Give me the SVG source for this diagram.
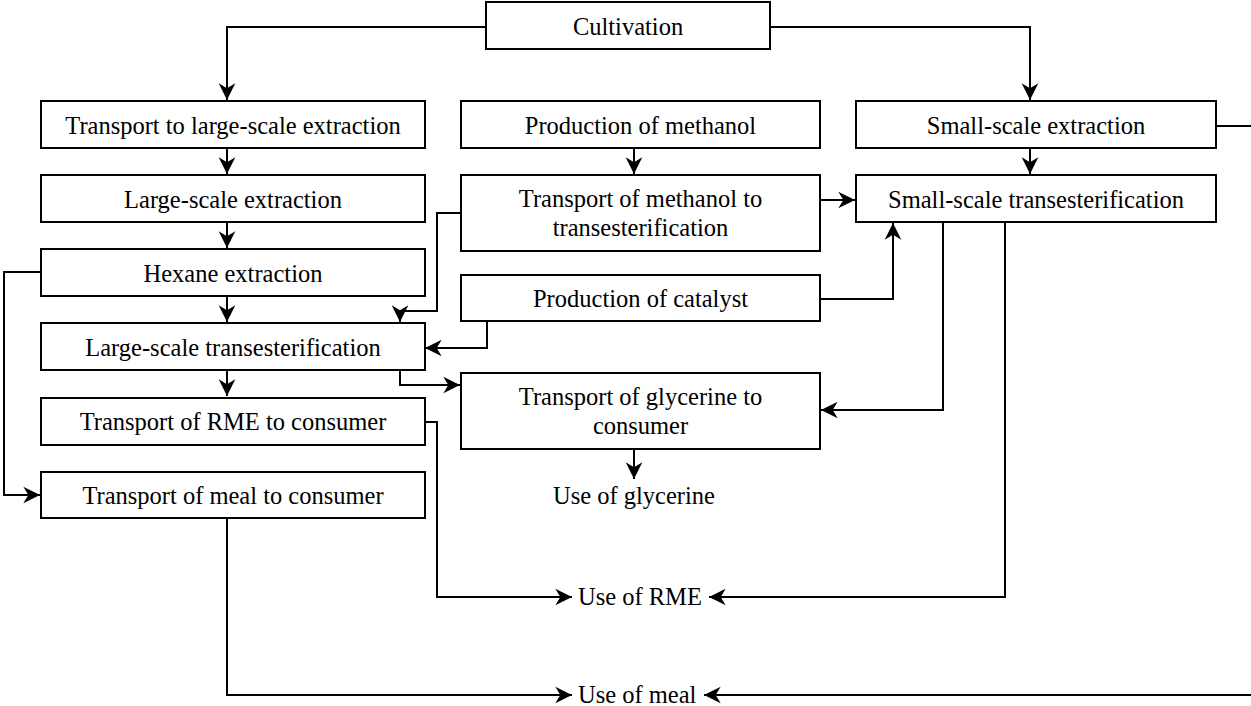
<svg xmlns="http://www.w3.org/2000/svg" width="1251" height="706" viewBox="0 0 1251 706">
<style>
.box{fill:#fff;stroke:#000;stroke-width:2}
.t{font-family:"Liberation Serif","Times New Roman",serif;font-size:24.5px;fill:#000;text-anchor:middle}
.tl{font-family:"Liberation Serif","Times New Roman",serif;font-size:24.5px;fill:#000}
.c{fill:none;stroke:#000;stroke-width:2;marker-end:url(#ah)}
</style>
<defs>
<marker id="ah" markerUnits="userSpaceOnUse" markerWidth="20" markerHeight="20" viewBox="-16 -9 18 18" refX="0" refY="0" orient="auto">
<path d="M0,0 L-15,-7.5 L-10.5,0 L-15,7.5 Z" fill="#000"/>
</marker>
</defs>
<rect width="1251" height="706" fill="#fff"/>
<g id="connectors">
<path class="c" d="M486,27 H227 V100"/>
<path class="c" d="M770,27 H1030 V100"/>
<path class="c" d="M227,148 V174"/>
<path class="c" d="M227,222 V248"/>
<path class="c" d="M227,296 V322"/>
<path class="c" d="M227,370 V396"/>
<path class="c" d="M634,148 V174"/>
<path class="c" d="M1030,148 V174"/>
<path class="c" d="M820,200 H855"/>
<path class="c" d="M461,213 H437 V311 H400 V322"/>
<path class="c" d="M487,321 V348 H425"/>
<path class="c" d="M820,299 H893 V223"/>
<path class="c" d="M400,370 V385 H460"/>
<path class="c" d="M943,222 V410 H821"/>
<path class="c" d="M1005,222 V597 H709"/>
<path class="c" d="M425,422 H437 V597 H572"/>
<path class="c" d="M41,272 H4 V495 H40"/>
<path class="c" d="M227,518 V695 H572"/>
<path class="c" d="M1216,126 H1258 V695 H704"/>
<path class="c" d="M634,449 V479"/>
</g>
<g id="cultivation"><rect class="box" x="486" y="2" width="284" height="47"/><text class="t" x="628" y="35">Cultivation</text></g>
<g id="transport-large-extraction"><rect class="box" x="41" y="101" width="384" height="47"/><text class="t" x="233" y="134">Transport to large-scale extraction</text></g>
<g id="large-extraction"><rect class="box" x="41" y="175" width="384" height="47"/><text class="t" x="233" y="208">Large-scale extraction</text></g>
<g id="hexane-extraction"><rect class="box" x="41" y="249" width="384" height="47"/><text class="t" x="233" y="282">Hexane extraction</text></g>
<g id="large-transesterification"><rect class="box" x="41" y="323" width="384" height="47"/><text class="t" x="233" y="356">Large-scale transesterification</text></g>
<g id="transport-rme"><rect class="box" x="41" y="398" width="384" height="47"/><text class="t" x="233" y="430">Transport of RME to consumer</text></g>
<g id="transport-meal"><rect class="box" x="41" y="472" width="384" height="46"/><text class="t" x="233" y="504">Transport of meal to consumer</text></g>
<g id="production-methanol"><rect class="box" x="461" y="101" width="359" height="47"/><text class="t" x="640.5" y="134">Production of methanol</text></g>
<g id="transport-methanol"><rect class="box" x="461" y="175" width="359" height="76"/><text class="t" x="640.5" y="207">Transport of methanol to</text><text class="t" x="640.5" y="236">transesterification</text></g>
<g id="production-catalyst"><rect class="box" x="461" y="275" width="359" height="46"/><text class="t" x="640.5" y="307">Production of catalyst</text></g>
<g id="transport-glycerine"><rect class="box" x="461" y="373" width="359" height="76"/><text class="t" x="640.5" y="405">Transport of glycerine to</text><text class="t" x="640.5" y="434">consumer</text></g>
<g id="small-extraction"><rect class="box" x="856" y="101" width="360" height="47"/><text class="t" x="1036" y="134">Small-scale extraction</text></g>
<g id="small-transesterification"><rect class="box" x="856" y="175" width="360" height="47"/><text class="t" x="1036" y="208">Small-scale transesterification</text></g>
<g id="use-glycerine"><text class="t" x="634" y="504">Use of glycerine</text></g>
<g id="use-rme"><text class="tl" x="578" y="605">Use of RME</text></g>
<g id="use-meal"><text class="tl" x="578" y="703">Use of meal</text></g>
</svg>
